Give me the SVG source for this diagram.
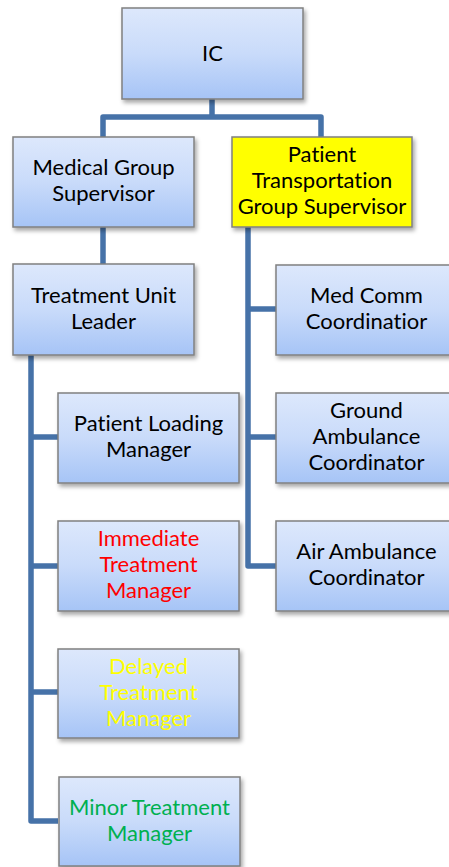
<svg xmlns="http://www.w3.org/2000/svg" width="449" height="867" viewBox="0 0 449 867">
<defs>
<linearGradient id="g" x1="0" y1="0" x2="0" y2="1">
<stop offset="0" stop-color="#dde8fc"/>
<stop offset="0.5" stop-color="#c9dbfa"/>
<stop offset="1" stop-color="#a6c4f6"/>
</linearGradient>
<filter id="sh" x="-10%" y="-10%" width="125%" height="130%">
<feDropShadow dx="2" dy="3" stdDeviation="2" flood-color="#000" flood-opacity="0.35"/>
</filter>
<style>
.box{fill:url(#g);stroke:#808080;stroke-width:1.5;filter:url(#sh)}
.yb{fill:#ffff00;stroke:#808080;stroke-width:1.5;filter:url(#sh)}
text{font-family:Lato,"Liberation Sans",sans-serif;font-size:22px;text-anchor:middle;fill:#000;font-variant-ligatures:none;font-feature-settings:"liga" 0,"clig" 0,"dlig" 0}
.c{fill:none;stroke:#4672a8;stroke-width:5.5;stroke-linejoin:round}
</style>
</defs>
<g id="connectors">
<path class="c" d="M212 99 V117 M103 137 V117 H321 V137"/>
<path class="c" d="M103 227 V264"/>
<path class="c" d="M248 227 V566 H276 M248 309 H276 M248 437 H276"/>
<path class="c" d="M31 355 V821 H58 M31 437 H58 M31 566 H58 M31 692 H58"/>
</g>
<g id="ic"><rect class="box" x="122" y="8" width="181" height="91"/><text x="212.5" y="61">IC</text></g>
<g id="medical-group-supervisor"><rect class="box" x="13" y="137" width="181" height="90"/><text x="103.5" y="175">Medical Group</text><text x="103.5" y="201">Supervisor</text></g>
<g id="patient-transportation-group-supervisor"><rect class="yb" x="232" y="137" width="180" height="90"/><text x="322" y="162">Patient</text><text x="322" y="188">Transportation</text><text x="322" y="214">Group Supervisor</text></g>
<g id="treatment-unit-leader"><rect class="box" x="13" y="264" width="181" height="91"/><text x="103.5" y="303">Treatment Unit</text><text x="103.5" y="329">Leader</text></g>
<g id="med-comm-coordinatior"><rect class="box" x="276" y="265" width="181" height="90"/><text x="366.5" y="303">Med Comm</text><text x="366.5" y="329">Coordinatior</text></g>
<g id="patient-loading-manager"><rect class="box" x="58" y="393" width="181" height="90"/><text x="148.5" y="431">Patient Loading</text><text x="148.5" y="457">Manager</text></g>
<g id="ground-ambulance-coordinator"><rect class="box" x="276" y="393" width="181" height="90"/><text x="366.5" y="418">Ground</text><text x="366.5" y="444">Ambulance</text><text x="366.5" y="470">Coordinator</text></g>
<g id="immediate-treatment-manager"><rect class="box" x="58" y="521" width="181" height="90"/><text x="148.5" y="546" style="fill:#ff0000">Immediate</text><text x="148.5" y="572" style="fill:#ff0000">Treatment</text><text x="148.5" y="598" style="fill:#ff0000">Manager</text></g>
<g id="air-ambulance-coordinator"><rect class="box" x="276" y="521" width="181" height="90"/><text x="366.5" y="559">Air Ambulance</text><text x="366.5" y="585">Coordinator</text></g>
<g id="delayed-treatment-manager"><rect class="box" x="58" y="649" width="181" height="89"/><text x="148.5" y="674" style="fill:#ffff00">Delayed</text><text x="148.5" y="700" style="fill:#ffff00">Treatment</text><text x="148.5" y="726" style="fill:#ffff00">Manager</text></g>
<g id="minor-treatment-manager"><rect class="box" x="59" y="777" width="181" height="89"/><text x="149.5" y="815" style="fill:#00b050">Minor Treatment</text><text x="149.5" y="841" style="fill:#00b050">Manager</text></g>
</svg>
